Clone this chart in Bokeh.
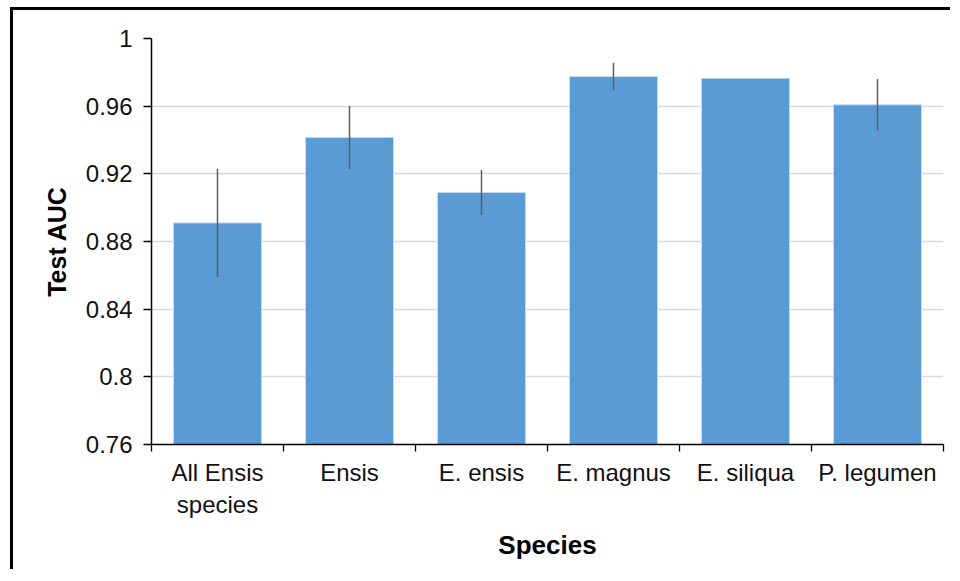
from bokeh.plotting import figure
from bokeh.models import ColumnDataSource, Range1d, FixedTicker
from bokeh.embed import file_html
from bokeh.resources import INLINE

categories = ["All Ensis\nspecies", "Ensis", "E. ensis", "E. magnus", "E. siliqua", "P. legumen"]
auc_mean = [0.891, 0.9415, 0.909, 0.9775, 0.9765, 0.9608]
auc_err = [0.032, 0.0186, 0.0133, 0.0082, 0.0, 0.0153]
y_ticks = [0.76, 0.80, 0.84, 0.88, 0.92, 0.96, 1.0]
y_tick_labels = ["0.76", "0.8", "0.84", "0.88", "0.92", "0.96", "1"]

xs = [i + 0.5 for i in range(len(categories))]
source = ColumnDataSource(dict(
    x=xs,
    top=auc_mean,
    lower=[m - e for m, e in zip(auc_mean, auc_err)],
    upper=[m + e for m, e in zip(auc_mean, auc_err)],
))

FONT = "Liberation Sans"

p = figure(width=940, height=562, output_backend="svg", toolbar_location=None,
           x_range=Range1d(0, len(categories)), y_range=Range1d(0.76, 1.0),
           min_border_left=138, min_border_right=10, min_border_top=28, min_border_bottom=128)
p.margin = (7, 0, 0, 10)
p.styles = {"border-left": "3px solid black", "border-top": "3px solid black"}
p.outline_line_color = None
p.background_fill_color = "white"
p.border_fill_color = "white"

p.vbar(x="x", top="top", bottom=0.76, width=0.667, source=source,
       fill_color="#5B9BD5", line_color="#C5DCF0", line_width=1)
p.segment(x0="x", y0="lower", x1="x", y1="upper", source=source,
          line_color="#5E5E5E", line_width=1.5)

# y axis
p.yaxis.ticker = FixedTicker(ticks=y_ticks)
p.yaxis.major_label_overrides = {t: l for t, l in zip(y_ticks, y_tick_labels)}
p.yaxis.minor_tick_line_color = None
p.yaxis.major_tick_in = 0
p.yaxis.major_tick_out = 8
p.yaxis.major_tick_line_color = "black"
p.yaxis.major_tick_line_width = 1.3
p.yaxis.axis_line_color = "black"
p.yaxis.axis_line_width = 1.5
p.yaxis.major_label_standoff = 11
p.yaxis.major_label_text_font = FONT
p.yaxis.major_label_text_font_size = "24px"
p.yaxis.major_label_text_color = "#111111"
p.yaxis.axis_label = "Test AUC"
p.yaxis.axis_label_text_font = FONT
p.yaxis.axis_label_text_font_size = "25px"
p.yaxis.axis_label_text_font_style = "bold"
p.yaxis.axis_label_text_color = "black"
p.yaxis.axis_label_standoff = 12

# x axis: labels at centers, ticks at category boundaries
p.xaxis.ticker = FixedTicker(ticks=xs, minor_ticks=list(range(len(categories) + 1)))
p.xaxis.major_label_overrides = {x: c for x, c in zip(xs, categories)}
p.xaxis.major_tick_in = 0
p.xaxis.major_tick_out = 0
p.xaxis.minor_tick_in = 0
p.xaxis.minor_tick_out = 7
p.xaxis.minor_tick_line_color = "black"
p.xaxis.minor_tick_line_width = 1.3
p.xaxis.axis_line_color = "black"
p.xaxis.axis_line_width = 1.5
p.xaxis.major_label_standoff = 7
p.xaxis.major_label_text_font = FONT
p.xaxis.major_label_text_font_size = "24px"
p.xaxis.major_label_text_color = "#111111"
p.xaxis.axis_label = "Species"
p.xaxis.axis_label_text_font = FONT
p.xaxis.axis_label_text_font_size = "26px"
p.xaxis.axis_label_text_font_style = "bold"
p.xaxis.axis_label_text_color = "black"
p.xaxis.axis_label_standoff = 9

p.xgrid.grid_line_color = None
p.ygrid.ticker = FixedTicker(ticks=y_ticks)
p.ygrid.grid_line_color = "#D9D9D9"
p.ygrid.grid_line_width = 1.5

open("out.html", "w").write(file_html(p, INLINE))
